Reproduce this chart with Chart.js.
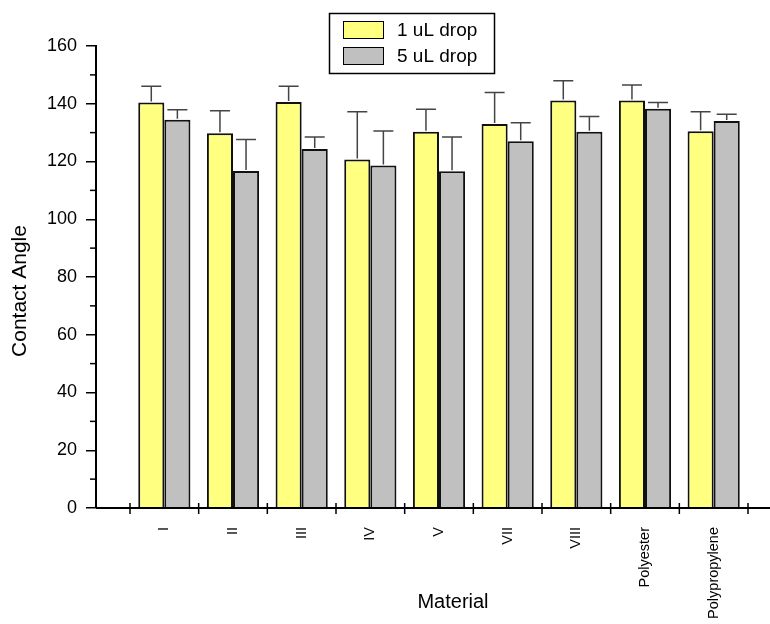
<!DOCTYPE html>
<html>
<head>
<meta charset="utf-8">
<script src="https://cdn.jsdelivr.net/npm/chart.js@4.4.0/dist/chart.umd.min.js"></script>
<style>
html, body { margin: 0; padding: 0; background: #fff; }
#wrap { width: 770px; height: 624px; }
</style>
</head>
<body>
<div id="wrap"><canvas id="chart" width="770" height="624"></canvas></div>
<script>
var materials = ['I', 'II', 'III', 'IV', 'V', 'VII', 'VIII', 'Polyester', 'Polypropylene'];
var drop1 = [140.4, 129.8, 140.6, 120.7, 130.3, 133.0, 141.1, 141.1, 130.5];
var drop1Err = [5.7, 7.8, 5.5, 16.5, 7.8, 10.9, 6.9, 5.4, 6.7];
var drop5 = [134.5, 116.7, 124.3, 118.6, 116.6, 127.0, 130.3, 138.3, 134.0];
var drop5Err = [3.4, 10.9, 4.2, 12.0, 11.9, 6.4, 5.3, 2.1, 2.4];
var yTitle = 'Contact Angle';
var xTitle = 'Material';

var FONT = "'Liberation Sans', Arial, sans-serif";

// Origin-style axis: x line starts at the y axis, categories start a bit further right
var shiftCategories = {
  id: 'shiftCategories',
  afterLayout: function(chart) {
    var x = chart.scales.x, area = chart.chartArea;
    x.left = area.left + 34;
    x.right = area.left + 652;
    x.width = x.right - x.left;
    x._labelItems = null;
    x._gridLineItems = null;
    x.configure();
  }
};

var decorations = {
  id: 'decorations',
  afterDatasetsDraw: function(chart) {
    var ctx = chart.ctx, y = chart.scales.y;
    ctx.save();
    ctx.strokeStyle = '#444';
    ctx.lineWidth = 1.5;
    chart.data.datasets.forEach(function(ds, d) {
      chart.getDatasetMeta(d).data.forEach(function(bar, i) {
        var top = y.getPixelForValue(ds.data[i] + ds.errors[i]);
        ctx.beginPath();
        ctx.moveTo(bar.x, bar.y - 1);
        ctx.lineTo(bar.x, top);
        ctx.moveTo(bar.x - 10, top);
        ctx.lineTo(bar.x + 10, top);
        ctx.stroke();
      });
    });
    ctx.restore();
  },
  afterDraw: function(chart) {
    var ctx = chart.ctx, area = chart.chartArea;
    var x = chart.scales.x, y = chart.scales.y;
    ctx.save();
    ctx.strokeStyle = '#000';

    // x axis line and crossing ticks between categories
    ctx.lineWidth = 2;
    ctx.beginPath();
    ctx.moveTo(area.left, area.bottom);
    ctx.lineTo(chart.width, area.bottom);
    ctx.stroke();
    ctx.lineWidth = 1.5;
    for (var i = 0; i <= materials.length; i++) {
      var px = x.getPixelForValue(i - 0.5);
      ctx.beginPath();
      ctx.moveTo(px, area.bottom - 5);
      ctx.lineTo(px, area.bottom + 6);
      ctx.stroke();
    }

    // minor y ticks
    for (var v = 10; v < 160; v += 20) {
      var py = y.getPixelForValue(v);
      ctx.beginPath();
      ctx.moveTo(area.left - 6, py);
      ctx.lineTo(area.left, py);
      ctx.stroke();
    }

    // axis titles
    ctx.fillStyle = '#000';
    ctx.textAlign = 'center';
    ctx.textBaseline = 'middle';
    ctx.font = '20px ' + FONT;
    ctx.fillText(xTitle, 453, 602);
    ctx.save();
    ctx.translate(20, 291);
    ctx.rotate(-Math.PI / 2);
    ctx.font = '21px ' + FONT;
    ctx.fillText(yTitle, 0, 0);
    ctx.restore();

    // legend box
    ctx.lineWidth = 1.5;
    ctx.strokeRect(329.5, 13.5, 165, 60);
    ctx.font = '19px ' + FONT;
    ctx.textAlign = 'left';
    chart.data.datasets.forEach(function(ds, d) {
      var sy = 21 + d * 26;
      ctx.fillStyle = ds.backgroundColor;
      ctx.fillRect(343, sy, 41, 18);
      ctx.lineWidth = 1;
      ctx.strokeRect(343.5, sy + 0.5, 40, 17);
      ctx.fillStyle = '#000';
      ctx.fillText(ds.label, 397, sy + 10);
    });
    ctx.restore();
  }
};

new Chart(document.getElementById('chart'), {
  type: 'bar',
  data: {
    labels: materials,
    datasets: [
      {
        label: '1 uL drop',
        data: drop1,
        errors: drop1Err,
        backgroundColor: '#FFFF80',
        borderColor: '#111',
        borderWidth: 2,
        categoryPercentage: 0.76,
        barPercentage: 1
      },
      {
        label: '5 uL drop',
        data: drop5,
        errors: drop5Err,
        backgroundColor: '#C0C0C0',
        borderColor: '#111',
        borderWidth: 2,
        categoryPercentage: 0.76,
        barPercentage: 1
      }
    ]
  },
  options: {
    responsive: false,
    animation: false,
    layout: { padding: { top: 46, left: 0, right: 0, bottom: 0 } },
    plugins: { legend: { display: false }, tooltip: { enabled: false } },
    scales: {
      x: {
        type: 'category',
        offset: true,
        grid: { display: false, drawTicks: false },
        border: { display: false },
        ticks: {
          minRotation: 90, maxRotation: 90, autoSkip: false, padding: 19,
          color: '#000', font: { family: FONT, size: 14.5 }
        },
        afterFit: function(s) { s.height = 116; }
      },
      y: {
        min: 0, max: 160,
        ticks: { stepSize: 20, padding: 9, color: '#000', font: { family: FONT, size: 18 } },
        grid: { drawOnChartArea: false, tickLength: 10, color: '#000', lineWidth: 1.5 },
        border: { color: '#000', width: 2 },
        afterFit: function(s) { s.width = 96; }
      }
    }
  },
  plugins: [shiftCategories, decorations]
});
</script>
</body>
</html>
